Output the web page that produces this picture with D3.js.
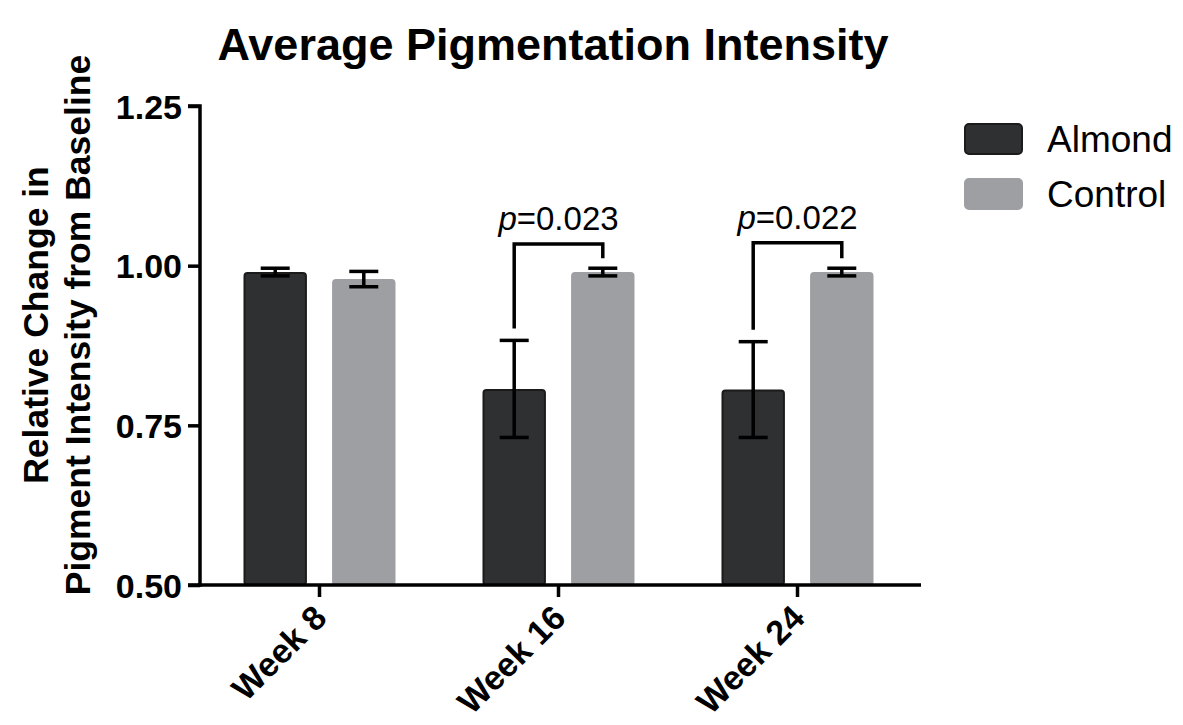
<!DOCTYPE html>
<html>
<head>
<meta charset="utf-8">
<script src="https://cdn.jsdelivr.net/npm/d3@7"></script>
<style>
  body { margin: 0; background: #fff; }
  svg { display: block; font-family: "Liberation Sans", Arial, sans-serif; }
</style>
</head>
<body>
<div id="chart"></div>
<script>
const weeks = ["Week 8", "Week 16", "Week 24"];
const series = ["Almond", "Control"];
const almondMean = [0.990, 0.807, 0.806];
const almondErr = [0.006, 0.076, 0.075];
const controlMean = [0.979, 0.990, 0.990];
const controlErr = [0.012, 0.006, 0.006];
const yTicks = [0.50, 0.75, 1.00, 1.25];
// comparisons: week, label, bracket top value
const compWeeks = ["Week 16", "Week 24"];
const compLabels = ["0.023", "0.022"];
const compTop = [1.034, 1.036];

const colors = { Almond: "#2f3032", Control: "#9e9fa3" };
const strokes = { Almond: "#1b1b1c", Control: "#9e9fa3" };

const width = 1183, height = 725;
const svg = d3.select("#chart").append("svg")
  .attr("width", width)
  .attr("height", height);

const x0 = d3.scaleBand().domain(weeks).range([200, 917])
  .paddingInner(0.364).paddingOuter(0.182);
const x1 = d3.scaleBand().domain(series).range([0, x0.bandwidth()])
  .paddingInner(0.284);
const y = d3.scaleLinear().domain([0.5, 1.25]).range([585, 106]);

const rows = [];
weeks.forEach((w, i) => {
  rows.push({ week: w, s: "Almond", v: almondMean[i], e: almondErr[i] });
  rows.push({ week: w, s: "Control", v: controlMean[i], e: controlErr[i] });
});

// title
svg.append("text")
  .attr("x", 553).attr("y", 60)
  .attr("text-anchor", "middle")
  .attr("font-weight", "bold")
  .attr("font-size", 45)
  .text("Average Pigmentation Intensity");

// bars
svg.append("g").selectAll("rect")
  .data(rows).enter().append("rect")
  .attr("x", d => x0(d.week) + x1(d.s) + 1)
  .attr("y", d => y(d.v) + 1)
  .attr("width", x1.bandwidth() - 2)
  .attr("height", d => y(0.5) - y(d.v) - 1)
  .attr("rx", 3)
  .attr("fill", d => colors[d.s])
  .attr("stroke", d => strokes[d.s])
  .attr("stroke-width", 2);

// error bars
const eb = svg.append("g").attr("stroke", "#000").attr("stroke-width", 3.5).attr("fill", "none");
rows.forEach(d => {
  const cx = x0(d.week) + x1(d.s) + x1.bandwidth() / 2;
  const capW = 14.5;
  eb.append("line").attr("x1", cx).attr("x2", cx).attr("y1", y(d.v + d.e)).attr("y2", y(d.v - d.e));
  eb.append("line").attr("x1", cx - capW).attr("x2", cx + capW).attr("y1", y(d.v + d.e)).attr("y2", y(d.v + d.e));
  eb.append("line").attr("x1", cx - capW).attr("x2", cx + capW).attr("y1", y(d.v - d.e)).attr("y2", y(d.v - d.e));
});

// significance brackets
compWeeks.forEach((w, i) => {
  const idx = weeks.indexOf(w);
  const ax = x0(w) + x1("Almond") + x1.bandwidth() / 2;
  const cx = x0(w) + x1("Control") + x1.bandwidth() / 2;
  const aTop = almondMean[idx] + almondErr[idx];
  const cTop = controlMean[idx] + controlErr[idx];
  svg.append("path")
    .attr("d", `M${ax},${y(aTop) - 12}V${y(compTop[i])}H${cx}V${y(cTop) - 10}`)
    .attr("fill", "none").attr("stroke", "#000").attr("stroke-width", 3.5);
  const t = svg.append("text")
    .attr("x", (ax + cx) / 2).attr("y", y(compTop[i]) - 14)
    .attr("text-anchor", "middle")
    .attr("font-size", 33);
  t.append("tspan").attr("font-style", "italic").text("p");
  t.append("tspan").text("=" + compLabels[i]);
});

// y axis
const yAxis = svg.append("g")
  .attr("transform", "translate(200,0)")
  .call(d3.axisLeft(y).tickValues(yTicks).tickFormat(d3.format(".2f")).tickSize(12).tickPadding(6));
yAxis.select(".domain").attr("stroke-width", 3.5).attr("d", `M-12,${y(1.25)}H0V${y(0.5)}H-12`);
yAxis.selectAll(".tick line").attr("stroke-width", 3.5);
yAxis.selectAll(".tick text").attr("font-size", 34).attr("font-weight", "bold").attr("font-family", "Liberation Sans, Arial, sans-serif").attr("fill", "#000").attr("dy", "0.36em");

// x axis
const xAxis = svg.append("g")
  .attr("transform", `translate(0,${y(0.5)})`)
  .call(d3.axisBottom(x0).tickSize(12).tickSizeOuter(0).tickPadding(8));
xAxis.select(".domain").attr("stroke-width", 3.5).attr("d", "M198,0H921");
xAxis.selectAll(".tick line").attr("stroke-width", 3.5);
xAxis.selectAll(".tick text")
  .attr("font-size", 34).attr("font-weight", "bold")
  .attr("font-family", "Liberation Sans, Arial, sans-serif").attr("fill", "#000")
  .attr("text-anchor", "end")
  .attr("y", 0).attr("dy", 0)
  .attr("transform", "translate(9,35) rotate(-45)");

// y label
const yl = svg.append("text")
  .attr("transform", "translate(0,325) rotate(-90)")
  .attr("text-anchor", "middle")
  .attr("font-weight", "bold")
  .attr("font-size", 35.5);
yl.append("tspan").attr("x", 0).attr("y", 48).text("Relative Change in");
yl.append("tspan").attr("x", 0).attr("y", 90).text("Pigment Intensity from Baseline");

// legend
const lg = svg.append("g");
series.forEach((s, i) => {
  lg.append("rect")
    .attr("x", 965).attr("y", 124 + i * 55)
    .attr("width", 57).attr("height", 30)
    .attr("rx", 4)
    .attr("fill", colors[s]).attr("stroke", strokes[s]).attr("stroke-width", 2);
  lg.append("text")
    .attr("x", 1047).attr("y", 152 + i * 55)
    .attr("font-size", 37)
    .text(s);
});
</script>
</body>
</html>
